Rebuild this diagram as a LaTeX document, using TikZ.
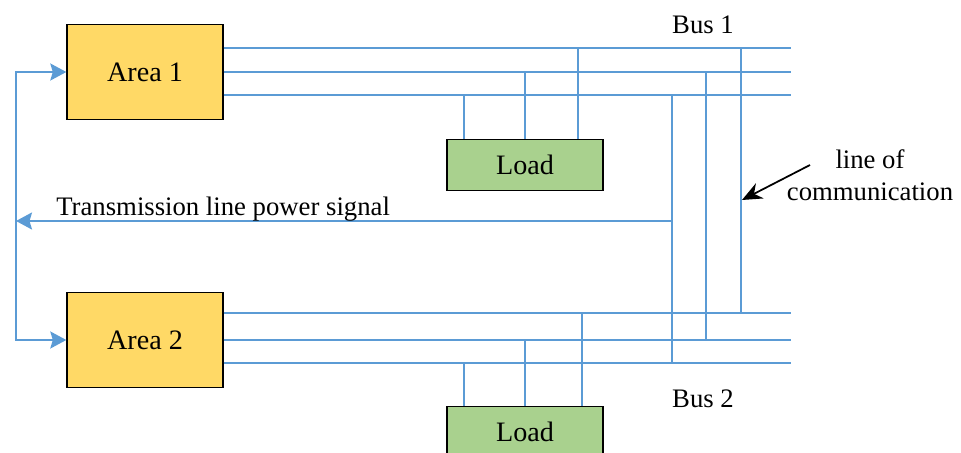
\documentclass[tikz,border=0pt]{standalone}
\usepackage{fontspec}
\setmainfont{Liberation Serif}
\definecolor{LineBlue}{RGB}{91,155,213}
\definecolor{AreaYellow}{RGB}{255,217,102}
\definecolor{LoadGreen}{RGB}{169,209,142}
\usetikzlibrary{arrows.meta, positioning, calc}

\begin{document}
\begin{tikzpicture}[x=0.02cm, y=-0.02cm, font=\fontsize{15.2}{18}\selectfont,
	area/.style={draw=black, line width=0.8pt, fill=AreaYellow, minimum width=3.12cm,
		minimum height=1.9cm, font=\fontsize{16}{19}\selectfont},
	loadbox/.style={draw=black, line width=0.8pt, fill=LoadGreen, minimum width=3.12cm,
		minimum height=1.02cm, font=\fontsize{16}{19}\selectfont},
	bus/.style={LineBlue, line width=1.2pt},
	sig/.style={bus, -{Stealth[length=3.2mm, width=3.4mm, inset=0.5mm]}}]
	\useasboundingbox (0,0) rectangle (961,453);

	% areas y cargas
	\node[area] (a1) at (145,72) {Area 1};
	\node[area] (a2) at (145,340) {Area 2};
	\node[loadbox] (l1) at (525,165) {Load};
	\node[loadbox] (l2) at (525,432) {Load};

	% barras
	\coordinate (b1a) at (791,48);
	\coordinate (b1b) at (791,72);
	\coordinate (b1c) at (791,95);
	\coordinate (b2a) at (791,313);
	\coordinate (b2b) at (791,340);
	\coordinate (b2c) at (791,363);
	\foreach \tgt/\src in {b1a/a1, b1b/a1, b1c/a1, b2a/a2, b2b/a2, b2c/a2}
		\draw[bus] (\src.east |- \tgt) -- (\tgt);
	\node[anchor=base] (bus1) at (703,33) {Bus 1};
	\node[anchor=base] (bus2) at (703,407) {Bus 2};

	% conexiones de las cargas
	\foreach \dx/\tgt in {-61/b1c, 0/b1b, 53/b1a}
		\draw[bus] ($(l1.north)+(\dx,0)$) coordinate (tap) -- (tap |- \tgt);
	\foreach \dx/\tgt in {-61/b2c, 0/b2b, 57/b2a}
		\draw[bus] ($(l2.north)+(\dx,0)$) coordinate (tap) -- (tap |- \tgt);

	% lineas de comunicacion entre barras
	\foreach \xx/\top/\bot in {672/b1c/b2c, 706/b1b/b2b, 741/b1a/b2a}
		\draw[bus] (\xx,0 |- \top) -- (\xx,0 |- \bot);

	% senal de potencia
	\coordinate (sigsrc) at (672,221);
	\coordinate (sigdst) at (16,221);
	\draw[sig] (sigsrc) -- (sigdst);
	\draw[sig] (sigdst) |- (a1.west);
	\draw[sig] (sigdst) |- (a2.west);
	\node[anchor=base west, inner sep=0pt] (sigtxt) at (56,215) {Transmission line power signal};

	% etiqueta de comunicacion
	\node[align=center] (comm) at (870,175) {line of\\communication};
	\coordinate (ctail) at (810,165);
	\coordinate (chead) at (742,200);
	\draw[-{Stealth[length=4mm, width=3.4mm]}, line width=1pt] (ctail) -- (chead);
\end{tikzpicture}
\end{document}
